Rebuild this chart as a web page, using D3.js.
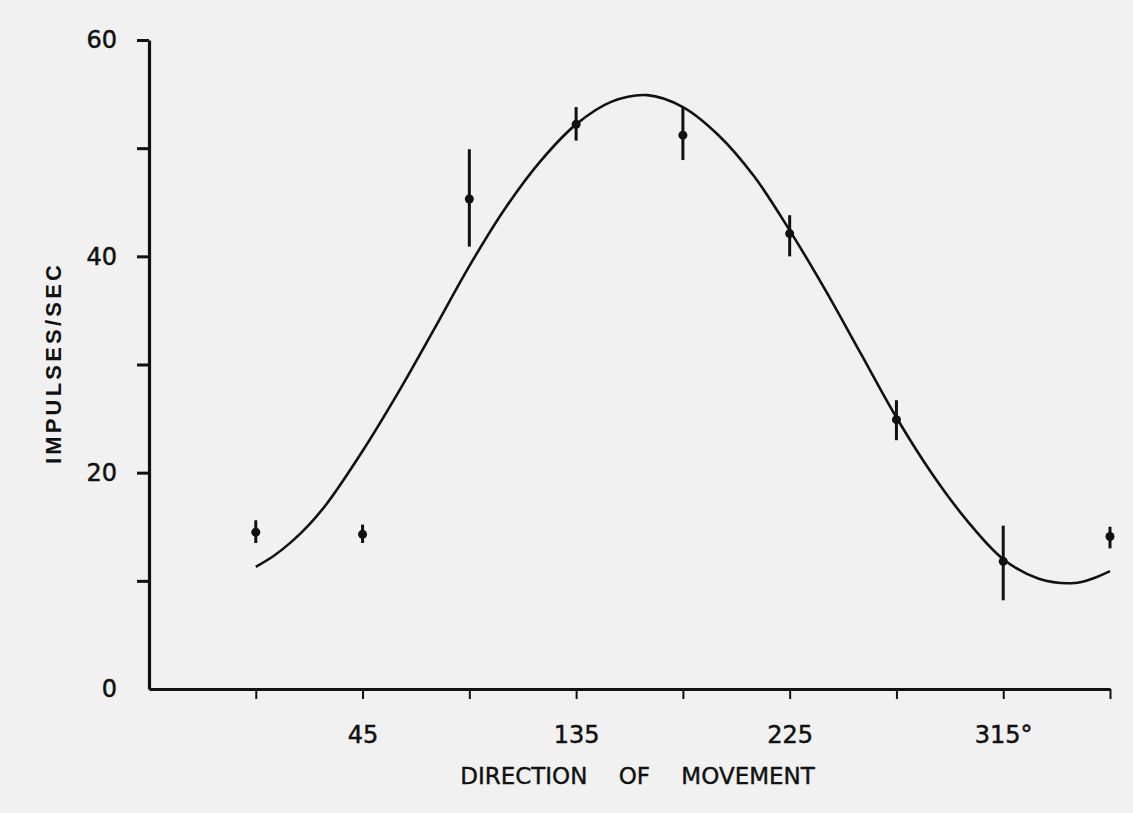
<!DOCTYPE html>
<html><head><meta charset="utf-8">
<script src="https://cdn.jsdelivr.net/npm/d3@7"></script>
<style>
html,body{margin:0;padding:0;background:#f1f1f1;}
svg{display:block;}
</style></head><body>
<svg id="chart" width="1133" height="813"></svg>
<script>
// ---- data ----
const directions = [0, 45, 90, 135, 180, 225, 270, 315, 360];
const meanRate   = [14.5, 14.3, 45.3, 52.2, 51.2, 42.1, 24.9, 11.8, 14.1];
const errLow     = [13.5, 13.5, 40.9, 50.7, 48.9, 40.0, 23.0, 8.2, 13.0];
const errHigh    = [15.6, 15.2, 49.9, 53.8, 53.8, 43.8, 26.7, 15.1, 15.0];

// fitted tuning curve
const fitAngles = [0, 7.5, 15, 22.5, 30, 45, 60, 75, 90, 105, 120, 135, 150, 165, 180,
                   195, 210, 225, 240, 255, 270, 285, 300, 315, 330, 345, 352.5, 360];
const fitRate   = [11.3, 12.3, 13.6, 15.2, 17.15, 22.0, 27.4, 33.2, 39.1, 44.4, 48.8, 52.2, 54.3, 54.9, 53.8,
                   51.2, 47.4, 42.4, 36.9, 31.0, 25.1, 19.9, 15.5, 12.0, 10.2, 9.8, 10.2, 10.9];

const xTickValues = [0, 45, 90, 135, 180, 225, 270, 315, 360];
const xTickLabels = {45: "45", 135: "135", 225: "225", 315: "315°"};
const yTickValues = [0, 10, 20, 30, 40, 50, 60];
const yTickLabels = {0: "0", 20: "20", 40: "40", 60: "60"};

const xTitle = "DIRECTION OF MOVEMENT";
const yTitle = "IMPULSES/SEC";

// ---- drawing ----
const FONT = '"DejaVu Sans", "Liberation Sans", Arial, sans-serif';
const svg = d3.select("#chart");
const x = d3.scaleLinear().domain([-45, 360]).range([149, 1110]);
const y = d3.scaleLinear().domain([0, 60]).range([689, 40]);

// x axis
const xAxis = d3.axisBottom(x)
  .tickValues(xTickValues)
  .tickSize(10).tickSizeOuter(0).tickPadding(27)
  .tickFormat(d => xTickLabels[d] || "");
const gx = svg.append("g").attr("transform", `translate(0,${y(0)})`).call(xAxis);
gx.select(".domain").attr("stroke", "#111").attr("stroke-width", 3.2);
gx.selectAll(".tick line").attr("stroke", "#111").attr("stroke-width", 2);
gx.selectAll(".tick text")
  .style("font-family", FONT).style("font-size", "24px")
  .attr("fill", "#111").attr("stroke", "#111").attr("stroke-width", 0.5);

// y axis
const yAxis = d3.axisLeft(y)
  .tickValues(yTickValues)
  .tickSize(12).tickSizeOuter(0).tickPadding(20)
  .tickFormat(d => yTickLabels[d] !== undefined ? yTickLabels[d] : "");
const gy = svg.append("g").attr("transform", `translate(${x(-45)},0)`).call(yAxis);
gy.select(".domain").attr("stroke", "#111").attr("stroke-width", 3.2);
gy.selectAll(".tick line").attr("stroke", "#111").attr("stroke-width", 3)
  .attr("display", d => d === 0 ? "none" : null);
gy.selectAll(".tick text")
  .style("font-family", FONT).style("font-size", "24px")
  .attr("fill", "#111").attr("stroke", "#111").attr("stroke-width", 0.5);

// fitted curve
const line = d3.line()
  .x((d, i) => x(fitAngles[i]))
  .y(d => y(d))
  .curve(d3.curveCatmullRom.alpha(0.5));
svg.append("path")
  .datum(fitRate)
  .attr("d", line)
  .attr("fill", "none")
  .attr("stroke", "#111")
  .attr("stroke-width", 2.6);

// error bars
const pts = directions.map((d, i) => ({a: d, m: meanRate[i], lo: errLow[i], hi: errHigh[i]}));
svg.append("g").selectAll("line").data(pts).join("line")
  .attr("x1", d => x(d.a)).attr("x2", d => x(d.a))
  .attr("y1", d => y(d.lo)).attr("y2", d => y(d.hi))
  .attr("stroke", "#111").attr("stroke-width", 3);

// points
svg.append("g").selectAll("circle").data(pts).join("circle")
  .attr("cx", d => x(d.a)).attr("cy", d => y(d.m))
  .attr("r", 4.5).attr("fill", "#111");

// titles
svg.append("text")
  .attr("x", (x(-45) + x(360)) / 2 + 8).attr("y", 784)
  .attr("text-anchor", "middle")
  .style("font-family", FONT).style("font-size", "23px")
  .style("word-spacing", "24px")
  .attr("fill", "#111").attr("stroke", "#111").attr("stroke-width", 0.4)
  .text(xTitle);

svg.append("text")
  .attr("transform", `translate(61,363) rotate(-90)`)
  .attr("text-anchor", "middle")
  .style("font-family", '"Liberation Sans", Arial, sans-serif')
  .style("font-size", "22px").style("font-weight", "bold")
  .style("letter-spacing", "3.2px")
  .attr("fill", "#111")
  .text(yTitle);
</script>
</body></html>
